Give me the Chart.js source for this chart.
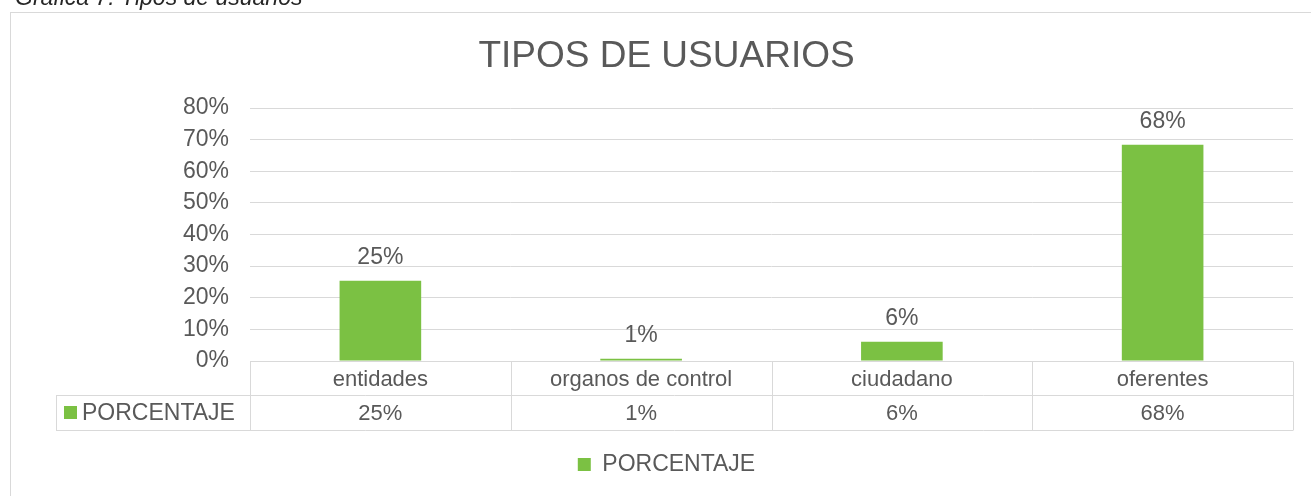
<!doctype html>
<html lang="es">
<head>
<meta charset="UTF-8">
<title>Tipos de usuarios</title>
<style>
    * { margin: 0; padding: 0; box-sizing: border-box; }

    body {
        background: #fff;
        width: 1311px;
        height: 496px;
        overflow: hidden;
        position: relative;
        font-family: 'Liberation Sans', Arial, sans-serif;
    }

    #caption {
        position: absolute;
        left: 15px;
        top: -14px;
        font-size: 23px;
        line-height: 23px;
        font-style: italic;
        color: #262626;
        white-space: nowrap;
        z-index: 2;
    }

    #myChart {
        position: absolute;
        left: 0;
        top: 0;
    }
</style>
</head>
<body>

<div id="caption">Gráfica 7. Tipos de usuarios</div>
<canvas id="myChart" width="1311" height="496"></canvas>

<script src="https://cdn.jsdelivr.net/npm/chart.js"></script>
<script>
    // data
    const categories = ['entidades', 'organos de control', 'ciudadano', 'oferentes'];
    const seriesName = 'PORCENTAJE';
    const porcentaje = [25.4, 0.7, 6.1, 68.4];
    const yTickValues = [0, 10, 20, 30, 40, 50, 60, 70, 80];

    const textColor = '#595959';
    const lineColor = '#d9d9d9';
    const barColor = '#7bc143';
    const fontFamily = "'Liberation Sans', Arial, sans-serif";

    const pct = v => Math.round(v) + '%';
    const px = v => Math.round(v) + 0.5;

    // frame, value labels and the data table under the axis
    const tablePlugin = {
        id: 'tablePlugin',
        beforeDraw(chart) {
            const ctx = chart.ctx;
            ctx.save();
            ctx.strokeStyle = lineColor;
            ctx.lineWidth = 1;
            ctx.strokeRect(10.5, 12.5, 1400, 600);
            ctx.restore();
        },
        afterDatasetsDraw(chart) {
            const {ctx, chartArea, scales: {x}} = chart;
            const meta = chart.getDatasetMeta(0);

            ctx.save();
            ctx.fillStyle = textColor;
            ctx.textAlign = 'center';
            ctx.textBaseline = 'middle';
            ctx.font = '23px ' + fontFamily;
            meta.data.forEach((bar, i) => {
                ctx.fillText(pct(porcentaje[i]), bar.x, bar.y - 23);
            });

            const top = chartArea.bottom;
            const mid = top + 34;
            const bot = top + 69;
            const keyLeft = 56;
            const cell = (x.right - x.left) / categories.length;

            ctx.strokeStyle = lineColor;
            ctx.lineWidth = 1;
            ctx.beginPath();
            ctx.moveTo(x.left, px(top)); ctx.lineTo(x.right, px(top));
            ctx.moveTo(keyLeft, px(mid)); ctx.lineTo(x.right, px(mid));
            ctx.moveTo(keyLeft, px(bot)); ctx.lineTo(x.right, px(bot));
            ctx.moveTo(px(keyLeft), px(mid)); ctx.lineTo(px(keyLeft), px(bot));
            for (let i = 0; i <= categories.length; i++) {
                const xx = px(x.left + i * cell);
                ctx.moveTo(xx, px(top));
                ctx.lineTo(xx, px(bot));
            }
            ctx.stroke();

            // series key cell
            ctx.fillStyle = barColor;
            ctx.fillRect(64, (mid + bot) / 2 - 6.5, 13, 13);
            ctx.fillStyle = textColor;
            ctx.textAlign = 'left';
            ctx.font = '23px ' + fontFamily;
            ctx.fillText(seriesName, 82, (mid + bot) / 2 + 1);

            // value row
            ctx.textAlign = 'center';
            ctx.font = '22px ' + fontFamily;
            porcentaje.forEach((v, i) => {
                ctx.fillText(pct(v), x.getPixelForValue(i), (mid + bot) / 2 + 1);
            });
            ctx.restore();
        }
    };

    const config = {
        type: 'bar',
        data: {
            labels: categories,
            datasets: [{
                label: seriesName,
                data: porcentaje,
                backgroundColor: barColor,
                borderWidth: 0,
                categoryPercentage: 1,
                barPercentage: 0.313
            }]
        },
        options: {
            responsive: false,
            animation: false,
            devicePixelRatio: 1,
            layout: {
                padding: {left: 40, right: 18, top: 0, bottom: 10}
            },
            scales: {
                x: {
                    grid: {display: false},
                    border: {display: false},
                    ticks: {
                        color: textColor,
                        font: {family: fontFamily, size: 22},
                        padding: -2,
                        maxRotation: 0,
                        autoSkip: false
                    },
                    afterFit(scale) {
                        scale.height = 82;
                    }
                },
                y: {
                    min: 0,
                    max: 80,
                    grid: {color: lineColor, lineWidth: 1, drawTicks: false},
                    border: {display: false},
                    ticks: {
                        color: textColor,
                        font: {family: fontFamily, size: 23},
                        padding: 21,
                        callback: v => v + '%'
                    },
                    afterBuildTicks(scale) {
                        scale.ticks = yTickValues.map(v => ({value: v}));
                    },
                    afterFit(scale) {
                        scale.width = 210;
                    }
                }
            },
            plugins: {
                tooltip: {enabled: false},
                title: {
                    display: true,
                    text: 'TIPOS DE USUARIOS',
                    color: textColor,
                    font: {family: fontFamily, size: 37, weight: 'normal'},
                    padding: {top: 35, bottom: 28.6}
                },
                legend: {
                    position: 'bottom',
                    labels: {
                        color: textColor,
                        boxWidth: 13,
                        boxHeight: 13,
                        font: {family: fontFamily, size: 23}
                    }
                }
            }
        },
        plugins: [tablePlugin]
    };

    const myChart = new Chart(document.getElementById('myChart'), config);
</script>

</body>
</html>
